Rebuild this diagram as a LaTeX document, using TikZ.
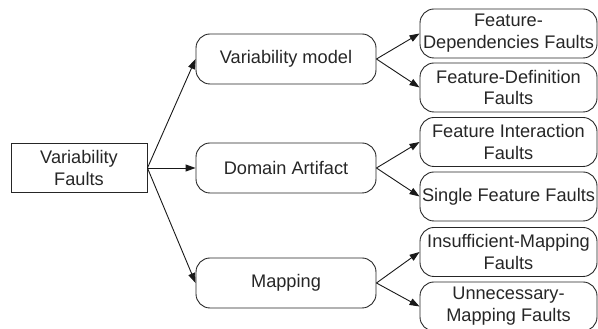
\documentclass[tikz,border=0pt]{standalone}
\usepackage{fontspec}
\setmainfont{Liberation Sans}
\usetikzlibrary{arrows.meta}
\begin{document}
\begin{tikzpicture}[x=1pt,y=1pt,
  every node/.style={font=\fontsize{18.2}{21.8}\selectfont, text=black!85, align=center, inner sep=0pt},
  rootbox/.style={draw=black!85, line width=0.9pt, minimum width=136pt, minimum height=49pt},
  midbox/.style={draw=black!85, line width=0.9pt, rounded corners=14pt, minimum width=180pt, minimum height=50pt},
  leafbox/.style={draw=black!85, line width=0.9pt, rounded corners=14pt, minimum width=177pt, minimum height=49pt},
  conn/.style={draw=black!90, line width=0.9pt, -{Triangle[length=10pt,width=7pt]}}]
\useasboundingbox (0,0) rectangle (598,329);
\node[rootbox] (root) at (79,161) {Variability\\Faults};
\node[midbox] (vm) at (286,270) {Variability model};
\node[midbox] (da) at (286,161) {Domain Artifact};
\node[midbox] (mp) at (286,46) {Mapping};
\node[leafbox] (l1) at (508.5,295.5) {Feature-\\Dependencies Faults};
\node[leafbox] (l2) at (508.5,241.5) {Feature-Definition\\Faults};
\node[leafbox] (l3) at (508.5,187) {Feature Interaction\\Faults};
\node[leafbox] (l4) at (508.5,132.5) {Single Feature Faults};
\node[leafbox] (l5) at (508.5,77) {Insufficient-Mapping\\Faults};
\node[leafbox] (l6) at (508.5,22.5) {Unnecessary-\\Mapping Faults};
\draw[conn] (root.east) -- (vm.west);
\draw[conn] (root.east) -- (da.west);
\draw[conn] (root.east) -- (mp.west);
\draw[conn] (vm.east) -- (l1.west);
\draw[conn] (vm.east) -- (l2.west);
\draw[conn] (da.east) -- (l3.west);
\draw[conn] (da.east) -- (l4.west);
\draw[conn] (mp.east) -- (l5.west);
\draw[conn] (mp.east) -- (l6.west);
\end{tikzpicture}
\end{document}
